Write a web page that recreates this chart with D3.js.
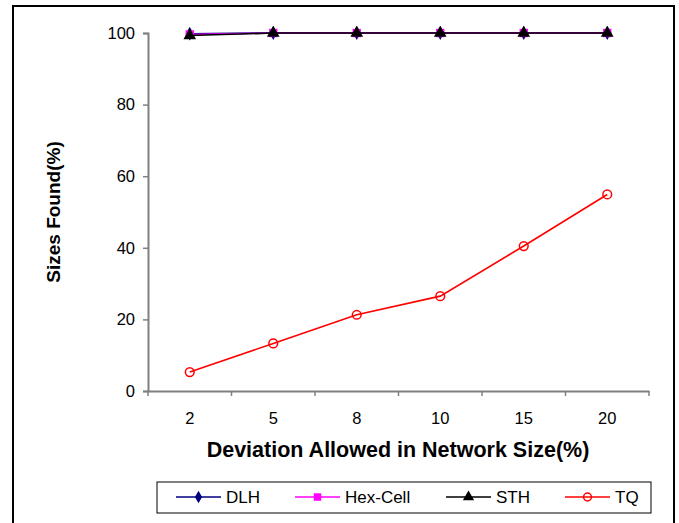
<!DOCTYPE html>
<html>
<head>
<meta charset="utf-8">
<script src="https://cdn.jsdelivr.net/npm/d3@7/dist/d3.min.js"></script>
<style>
  html, body { margin: 0; padding: 0; background: #fff; }
  svg { display: block; font-family: "Liberation Sans", Arial, sans-serif; }
</style>
</head>
<body>
<svg id="chart" width="679" height="523"></svg>
<script>
// Deviation categories (x axis) and percentage of sizes found per method
const categories = ["2", "5", "8", "10", "15", "20"];
const dlh     = [99.8, 100, 100, 100, 100, 100];
const hexCell = [99.6, 100, 100, 100, 100, 100];
const sth     = [99.3, 100, 100, 100, 100, 100];
const tq      = [5.3, 13.3, 21.3, 26.5, 40.5, 54.9];
const yTicks  = [0, 20, 40, 60, 80, 100];

const seriesList = [
  { name: "DLH",      values: dlh,     color: "#000080", symbol: d3.symbolDiamond,  size: 55, fill: "#000080" },
  { name: "Hex-Cell", values: hexCell, color: "#FF00FF", symbol: d3.symbolSquare,   size: 70, fill: "#FF00FF" },
  { name: "STH",      values: sth,     color: "#000000", symbol: d3.symbolTriangle, size: 70, fill: "#000000" },
  { name: "TQ",       values: tq,      color: "#FF0000", symbol: d3.symbolCircle,   size: 60, fill: "none" }
];

const svg = d3.select("#chart");

// Outer frame
svg.append("rect")
  .attr("x", 13).attr("y", 6).attr("width", 661).attr("height", 530)
  .attr("fill", "none").attr("stroke", "#000").attr("stroke-width", 2);

const plot = { left: 148, right: 649, top: 33, bottom: 391 };

const x = d3.scaleBand().domain(categories).range([plot.left, plot.right]);
const y = d3.scaleLinear().domain([0, 100]).range([plot.bottom, plot.top]);

// Y axis
const yAxis = svg.append("g")
  .attr("transform", `translate(${plot.left},0)`)
  .call(d3.axisLeft(y).tickValues(yTicks).tickSize(5).tickPadding(8));
yAxis.select(".domain").attr("stroke", "#808080").attr("stroke-width", 2);
yAxis.selectAll(".tick line").attr("stroke", "#808080").attr("stroke-width", 1.5);
yAxis.selectAll(".tick text").attr("font-size", 16.5).attr("fill", "#000")
  .attr("font-family", "'Liberation Sans', Arial, sans-serif");

// X axis: ticks sit between categories
const xAxis = svg.append("g")
  .attr("transform", `translate(0,${plot.bottom})`)
  .call(d3.axisBottom(x).tickSize(0).tickPadding(21));
xAxis.select(".domain").attr("stroke", "#808080").attr("stroke-width", 2);
xAxis.selectAll(".tick text").attr("font-size", 16.5).attr("fill", "#000")
  .attr("font-family", "'Liberation Sans', Arial, sans-serif");
const boundaries = categories.map(c => x(c)).concat([plot.right]);
xAxis.selectAll(".boundary").data(boundaries).enter().append("line")
  .attr("x1", d => d).attr("x2", d => d)
  .attr("y1", 0).attr("y2", 5)
  .attr("stroke", "#808080").attr("stroke-width", 1.5);

// Axis titles
svg.append("text")
  .attr("transform", `translate(60,${(plot.top + plot.bottom) / 2}) rotate(-90)`)
  .attr("text-anchor", "middle")
  .attr("font-size", 19).attr("font-weight", "bold")
  .text("Sizes Found(%)");

svg.append("text")
  .attr("x", 398).attr("y", 457)
  .attr("text-anchor", "middle")
  .attr("font-size", 21.5).attr("font-weight", "bold")
  .text("Deviation Allowed in Network Size(%)");

// Series lines and markers
const cx = c => x(c) + x.bandwidth() / 2;
const line = d3.line().x((d, i) => cx(categories[i])).y(d => y(d));

seriesList.forEach(s => {
  const g = svg.append("g");
  g.append("path")
    .datum(s.values)
    .attr("d", line)
    .attr("fill", "none")
    .attr("stroke", s.color)
    .attr("stroke-width", 1.6);
  g.selectAll("path.marker")
    .data(s.values)
    .enter().append("path")
    .attr("class", "marker")
    .attr("d", d3.symbol().type(s.symbol).size(s.size))
    .attr("transform", (d, i) => `translate(${cx(categories[i])},${y(d)})`)
    .attr("fill", s.fill)
    .attr("stroke", s.fill === "none" ? s.color : "none")
    .attr("stroke-width", 1.5);
});

// Legend
svg.append("rect")
  .attr("x", 157).attr("y", 482).attr("width", 494).attr("height", 31)
  .attr("fill", "#fff").attr("stroke", "#000").attr("stroke-width", 1);

const legendX = [176, 295, 446, 565];
const legendY = 497;
seriesList.forEach((s, i) => {
  const lx = legendX[i];
  svg.append("line")
    .attr("x1", lx).attr("x2", lx + 45)
    .attr("y1", legendY).attr("y2", legendY)
    .attr("stroke", s.color).attr("stroke-width", 1.5);
  svg.append("path")
    .attr("d", d3.symbol().type(s.symbol).size(s.size * 0.8))
    .attr("transform", `translate(${lx + 22.5},${legendY})`)
    .attr("fill", s.fill)
    .attr("stroke", s.fill === "none" ? s.color : "none")
    .attr("stroke-width", 1.5);
  svg.append("text")
    .attr("x", lx + 50).attr("y", legendY + 6)
    .attr("font-size", 17)
    .text(s.name);
});
</script>
</body>
</html>
